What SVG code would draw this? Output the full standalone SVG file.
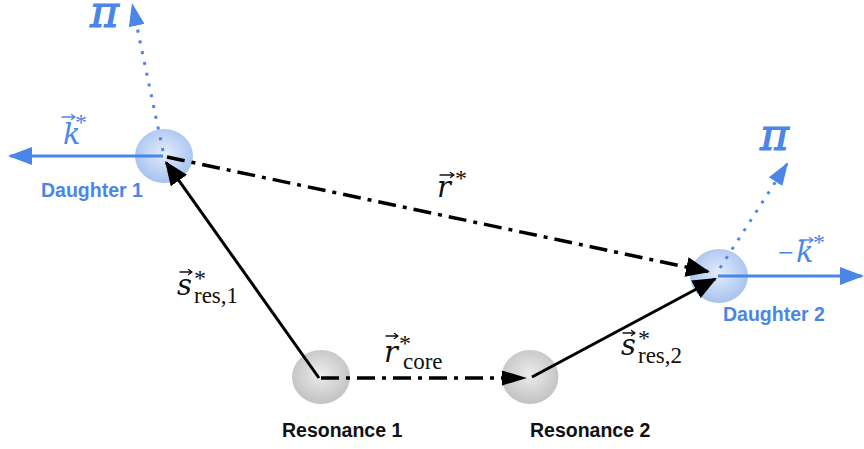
<svg xmlns="http://www.w3.org/2000/svg" width="864" height="449" viewBox="0 0 864 449">
<style>
.lbl{font-family:"Liberation Sans",Arial,sans-serif;font-weight:bold;font-size:19.5px}
.blue{fill:#4a86e8}
.blk{fill:#111}
.math{font-family:"DejaVu Serif","Liberation Serif",serif;font-style:italic}
.pi{font-family:"DejaVu Serif","Liberation Serif",serif;font-style:italic;font-size:44px;stroke:#4a86e8;stroke-width:1.1}
.up{font-family:"Liberation Serif","Times New Roman",serif;font-style:normal}
.vec{fill:none;stroke-width:1.3;stroke-linecap:round;stroke-linejoin:round}
.solid{stroke:#000;stroke-width:3;fill:none}
.dashdot{stroke:#000;stroke-width:3.5;fill:none;stroke-dasharray:18 7 4 7}
.bline{stroke:#4a86e8;stroke-width:3;fill:none}
.bdot{stroke:#4a86e8;stroke-width:3;fill:none;stroke-dasharray:3 8}
</style>
<defs>
<radialGradient id="gBlue" cx="50%" cy="45%" r="55%">
<stop offset="0" stop-color="#e4edfb"/>
<stop offset="1" stop-color="#a6c2ef"/>
</radialGradient>
<radialGradient id="gGray" cx="50%" cy="45%" r="55%">
<stop offset="0" stop-color="#ececec"/>
<stop offset="1" stop-color="#c2c2c2"/>
</radialGradient>
<marker id="ahB" viewBox="0 0 24 20" markerWidth="24" markerHeight="20" refX="22" refY="10" orient="auto" markerUnits="userSpaceOnUse">
<path d="M0,0 L24,10 L0,20 z" fill="#000"/>
</marker>
<marker id="ahBs" viewBox="0 0 25 15" markerWidth="25" markerHeight="15" refX="23" refY="7.5" orient="auto" markerUnits="userSpaceOnUse">
<path d="M0,0 L25,7.5 L0,15 z" fill="#000"/>
</marker>
<marker id="ahL" viewBox="0 0 24 18" markerWidth="24" markerHeight="18" refX="22" refY="9" orient="auto" markerUnits="userSpaceOnUse">
<path d="M0,0 L24,9 L0,18 z" fill="#4a86e8"/>
</marker>
<marker id="ahP" viewBox="0 0 23 16" markerWidth="23" markerHeight="16" refX="21" refY="8" orient="auto" markerUnits="userSpaceOnUse">
<path d="M0,0 L23,8 L0,16 z" fill="#4a86e8"/>
</marker>
</defs>

<g id="daughter1">
<ellipse cx="164" cy="156" rx="29" ry="27" fill="url(#gBlue)"/>
<text class="lbl blue" x="41" y="197">Daughter 1</text>
</g>
<g id="daughter2">
<ellipse cx="719" cy="276" rx="29" ry="27" fill="url(#gBlue)"/>
<text class="lbl blue" x="723" y="321">Daughter 2</text>
</g>
<g id="resonance1">
<ellipse cx="321" cy="377" rx="29" ry="27" fill="url(#gGray)"/>
<text class="lbl blk" x="282" y="437">Resonance 1</text>
</g>
<g id="resonance2">
<ellipse cx="530" cy="377" rx="28.5" ry="27" fill="url(#gGray)"/>
<text class="lbl blk" x="530" y="437">Resonance 2</text>
</g>

<g id="connectors">
<line class="dashdot" x1="321" y1="378" x2="525" y2="378" marker-end="url(#ahBs)"/>
<line class="dashdot" x1="167" y1="157" x2="708" y2="271.6" marker-end="url(#ahB)"/>
<line class="solid" x1="319" y1="378" x2="166.2" y2="162.6" marker-end="url(#ahB)"/>
<line class="solid" x1="532" y1="377" x2="715.2" y2="279" marker-end="url(#ahB)"/>
<line class="bline" x1="163" y1="156" x2="10" y2="156" marker-end="url(#ahL)"/>
<line class="bline" x1="718" y1="276" x2="862" y2="276" marker-end="url(#ahL)"/>
<line class="bdot" x1="163" y1="151" x2="132.4" y2="5" marker-end="url(#ahP)"/>
<line class="bdot" x1="720" y1="268" x2="787" y2="164" marker-end="url(#ahP)"/>
</g>

<g id="labels">
<text class="pi blue" x="90" y="27">π</text>
<text class="pi blue" x="760" y="150">π</text>

<text class="math blue" x="63" y="144" font-size="29">k<tspan class="up" x="75" y="130" font-size="24">*</tspan></text>
<path class="vec" stroke="#4a86e8" d="M62,117 H75 M71.5,114.5 L75,117 L71.5,119.5"/>

<text class="up blue" x="778" y="262" font-size="28">−<tspan class="math" x="796" y="262" font-size="29">k</tspan><tspan x="813" y="250" font-size="24">*</tspan></text>
<path class="vec" stroke="#4a86e8" d="M800,240 H813 M809.5,237.5 L813,240 L809.5,242.5"/>

<text class="math blk" x="437" y="197" font-size="29">r<tspan class="up" x="455" y="186" font-size="24">*</tspan></text>
<path class="vec" stroke="#111" d="M440,175 H454 M450.5,172.5 L454,175 L450.5,177.5"/>

<text class="math blk" x="384" y="362" font-size="29">r<tspan class="up" x="399" y="351" font-size="24">*</tspan><tspan class="up" x="403" y="369" font-size="23">core</tspan></text>
<path class="vec" stroke="#111" d="M386,336 H398 M394.5,333.5 L398,336 L394.5,338.5"/>

<text class="math blk" x="177" y="295" font-size="29">s<tspan class="up" x="194" y="286" font-size="24">*</tspan><tspan class="up" x="194" y="303" font-size="23">res,1</tspan></text>
<path class="vec" stroke="#111" d="M180,272 H192 M188.5,269.5 L192,272 L188.5,274.5"/>

<text class="math blk" x="621" y="355" font-size="29">s<tspan class="up" x="638" y="346" font-size="24">*</tspan><tspan class="up" x="638" y="363" font-size="23">res,2</tspan></text>
<path class="vec" stroke="#111" d="M623,333 H635 M631.5,330.5 L635,333 L631.5,335.5"/>
</g>
</svg>
